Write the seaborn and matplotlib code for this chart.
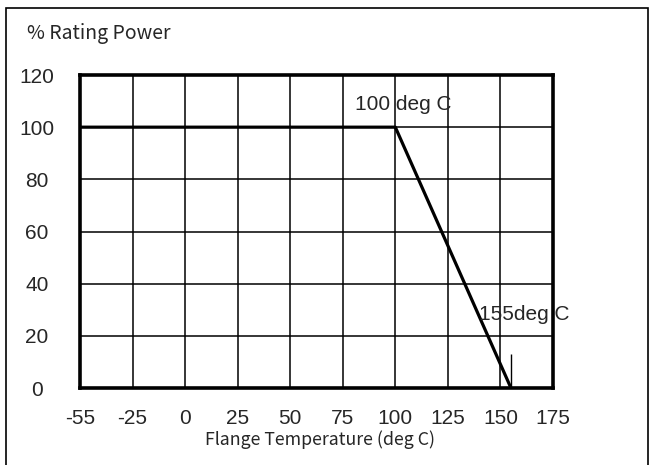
import pandas as pd
import matplotlib.pyplot as plt
import seaborn as sns
from matplotlib.patches import Rectangle

# Dados da curva de derating
temperatura = [-55, 100, 155]
potencia = [100, 100, 0]
x_ticks = [-50, -25, 0, 25, 50, 75, 100, 125, 150, 175]
x_labels = ['-55', '-25', '0', '25', '50', '75', '100', '125', '150', '175']
y_ticks = [0, 20, 40, 60, 80, 100, 120]
marca_x = 155
marca_topo = 13

df = pd.DataFrame({'temp': temperatura, 'pot': potencia})

sns.set_style('white')
plt.rcParams['font.family'] = ['Liberation Sans', 'DejaVu Sans']

fig = plt.figure(figsize=(6.51, 4.65), dpi=100)
ax = fig.add_axes([80 / 651, 77 / 465, 473 / 651, 313 / 465])

sns.lineplot(data=df, x='temp', y='pot', color='black', linewidth=2.3, ax=ax)
ax.vlines(marca_x, 0, marca_topo, color='black', linewidth=1.0)

ax.set_xlim(-50, 175)
ax.set_ylim(0, 120)
ax.set_xticks(x_ticks)
ax.set_xticklabels(x_labels, fontsize=15)
ax.set_yticks(y_ticks)
ax.set_yticklabels([str(v) for v in y_ticks], fontsize=15, ha='center')
ax.tick_params(axis='both', length=0)
ax.tick_params(axis='x', pad=15)
ax.tick_params(axis='y', pad=31)
ax.grid(True, color='black', linewidth=1.1)
for s in ax.spines.values():
    s.set_linewidth(2.6)
    s.set_color('black')
ax.set_xlabel('')
ax.set_ylabel('')

ax.text(104, 108.5, '100 deg C', fontsize=15, ha='center', va='center')
ax.text(161.5, 28, '155deg C', fontsize=15, ha='center', va='center')

fig.text(27 / 651, 1 - 33 / 465, '% Rating Power', fontsize=14, ha='left', va='center',
         family=['Noto Sans CJK JP', 'DejaVu Sans'])
fig.text(320 / 651, 1 - 440 / 465, 'Flange Temperature (deg C)', fontsize=12.8, ha='center',
         va='center', family=['Noto Sans CJK JP', 'DejaVu Sans'])

# Moldura externa
fig.patches.append(Rectangle((6 / 651, -0.02), 642 / 651, 1.02 - 8 / 465, transform=fig.transFigure,
                             fill=False, edgecolor='black', linewidth=1.2))

plt.savefig('out.png', dpi=100)
